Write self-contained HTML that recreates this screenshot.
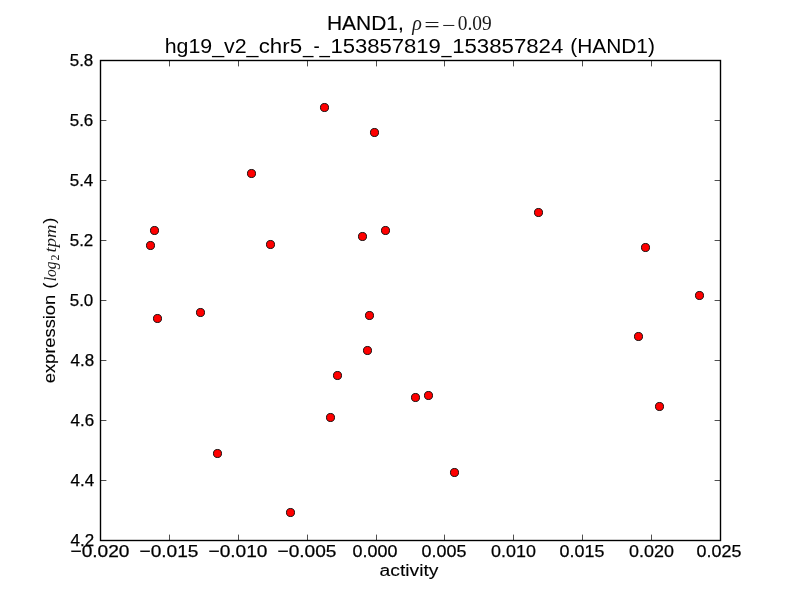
<!DOCTYPE html>
<html lang="en">
<head>
<meta charset="utf-8">
<title>HAND1 activity vs expression</title>
<style>
html,body{margin:0;padding:0;background:#fff;width:800px;height:600px;overflow:hidden}
svg{display:block;position:absolute;left:0;top:0;will-change:transform}
text{font-family:"Liberation Sans",sans-serif;fill:#000;stroke:none}
.tl text{stroke:#000;stroke-width:0.25}
.al{stroke:#000;stroke-width:0.1}
.t2{stroke:#000;stroke-width:0}
.tt{stroke:#000;stroke-width:0.15}
.m{font-family:"Liberation Serif",serif;font-style:italic;stroke:none;fill-opacity:0.9}
.r{font-family:"Liberation Serif",serif;font-style:normal;stroke:none;fill-opacity:0.9}
.tk{stroke:#000;stroke-width:0.694;fill:none}
.pt{fill:#f00;stroke:#000;stroke-width:0.9}
</style>
</head>
<body>
<svg width="800" height="600" viewBox="0 0 800 600">
<rect x="0" y="0" width="800" height="600" fill="#fff"/>
<g class="tk">
<path d="M169.5 540.5V534.6M169.5 60.5V66.4"/>
<path d="M238.5 540.5V534.6M238.5 60.5V66.4"/>
<path d="M307.5 540.5V534.6M307.5 60.5V66.4"/>
<path d="M376.5 540.5V534.6M376.5 60.5V66.4"/>
<path d="M444.5 540.5V534.6M444.5 60.5V66.4"/>
<path d="M513.5 540.5V534.6M513.5 60.5V66.4"/>
<path d="M582.5 540.5V534.6M582.5 60.5V66.4"/>
<path d="M651.5 540.5V534.6M651.5 60.5V66.4"/>
<path d="M100.5 120.5H106.4M720.5 120.5H714.6"/>
<path d="M100.5 180.5H106.4M720.5 180.5H714.6"/>
<path d="M100.5 240.5H106.4M720.5 240.5H714.6"/>
<path d="M100.5 300.5H106.4M720.5 300.5H714.6"/>
<path d="M100.5 360.5H106.4M720.5 360.5H714.6"/>
<path d="M100.5 420.5H106.4M720.5 420.5H714.6"/>
<path d="M100.5 480.5H106.4M720.5 480.5H714.6"/>
</g>
<g class="pt">
<circle cx="324.5" cy="107.5" r="4.03"/>
<circle cx="374.5" cy="132.5" r="4.03"/>
<circle cx="251.5" cy="173.5" r="4.03"/>
<circle cx="538.5" cy="212.5" r="4.03"/>
<circle cx="154.5" cy="230.5" r="4.03"/>
<circle cx="385.5" cy="230.5" r="4.03"/>
<circle cx="362.5" cy="236.5" r="4.03"/>
<circle cx="270.5" cy="244.5" r="4.03"/>
<circle cx="150.5" cy="245.5" r="4.03"/>
<circle cx="645.5" cy="247.5" r="4.03"/>
<circle cx="699.5" cy="295.5" r="4.03"/>
<circle cx="200.5" cy="312.5" r="4.03"/>
<circle cx="369.5" cy="315.5" r="4.03"/>
<circle cx="157.5" cy="318.5" r="4.03"/>
<circle cx="638.5" cy="336.5" r="4.03"/>
<circle cx="367.5" cy="350.5" r="4.03"/>
<circle cx="337.5" cy="375.5" r="4.03"/>
<circle cx="428.5" cy="395.5" r="4.03"/>
<circle cx="415.5" cy="397.5" r="4.03"/>
<circle cx="659.5" cy="406.5" r="4.03"/>
<circle cx="330.5" cy="417.5" r="4.03"/>
<circle cx="217.5" cy="453.5" r="4.03"/>
<circle cx="454.5" cy="472.5" r="4.03"/>
<circle cx="290.5" cy="512.5" r="4.03"/>
</g>
<rect x="100.5" y="60.5" width="620" height="480" fill="none" stroke="#000" stroke-width="1.389"/>
<g class="tl" font-size="17" text-anchor="middle">
<text x="100.00" y="557" textLength="59" lengthAdjust="spacingAndGlyphs">−0.020</text>
<text x="169.00" y="557" textLength="59" lengthAdjust="spacingAndGlyphs">−0.015</text>
<text x="238.00" y="557" textLength="59" lengthAdjust="spacingAndGlyphs">−0.010</text>
<text x="307.00" y="557" textLength="59" lengthAdjust="spacingAndGlyphs">−0.005</text>
<text x="375.00" y="557" textLength="44.8" lengthAdjust="spacingAndGlyphs">0.000</text>
<text x="444.00" y="557" textLength="44.8" lengthAdjust="spacingAndGlyphs">0.005</text>
<text x="513.50" y="557" textLength="44.8" lengthAdjust="spacingAndGlyphs">0.010</text>
<text x="582.00" y="557" textLength="44.8" lengthAdjust="spacingAndGlyphs">0.015</text>
<text x="651.50" y="557" textLength="44.8" lengthAdjust="spacingAndGlyphs">0.020</text>
<text x="719.00" y="557" textLength="44.8" lengthAdjust="spacingAndGlyphs">0.025</text>
</g>
<g class="tl" font-size="17" text-anchor="end">
<text x="93.30" y="66.0" textLength="23.6" lengthAdjust="spacingAndGlyphs">5.8</text>
<text x="93.30" y="126.0" textLength="23.6" lengthAdjust="spacingAndGlyphs">5.6</text>
<text x="93.30" y="186.0" textLength="23.6" lengthAdjust="spacingAndGlyphs">5.4</text>
<text x="93.30" y="246.0" textLength="23.6" lengthAdjust="spacingAndGlyphs">5.2</text>
<text x="93.30" y="306.0" textLength="23.6" lengthAdjust="spacingAndGlyphs">5.0</text>
<text x="94.10" y="366.0" textLength="23.6" lengthAdjust="spacingAndGlyphs">4.8</text>
<text x="94.10" y="426.0" textLength="23.6" lengthAdjust="spacingAndGlyphs">4.6</text>
<text x="94.10" y="486.0" textLength="23.6" lengthAdjust="spacingAndGlyphs">4.4</text>
<text x="94.10" y="546.0" textLength="23.6" lengthAdjust="spacingAndGlyphs">4.2</text>
</g>
<text id="xl" class="al" x="409" y="576" font-size="17.3" text-anchor="middle" textLength="59" lengthAdjust="spacingAndGlyphs">activity</text>
<g transform="translate(55 382.5) rotate(-90)">
<text font-size="17.3"><tspan id="yl_e" class="al" x="-0.8" y="0" textLength="88.5" lengthAdjust="spacingAndGlyphs">expression</tspan> <tspan id="yl_o" class="al" x="94" y="0">(</tspan><tspan id="yl_log" class="m" x="101.2" y="0.5" font-size="17" textLength="20" lengthAdjust="spacingAndGlyphs">log</tspan><tspan id="yl_2" class="r" x="122" y="3.5" font-size="12">2</tspan> <tspan id="yl_tpm" class="m" x="130" y="0.5" font-size="17" textLength="28" lengthAdjust="spacingAndGlyphs">tpm</tspan><tspan id="yl_c" class="al" x="159" y="0">)</tspan></text>
</g>
<text font-size="20.5"><tspan id="t1a" class="tt" x="326.9" y="30" textLength="76.9" lengthAdjust="spacingAndGlyphs">HAND1,</tspan> <tspan id="t1rho" class="m" x="412.3" y="30" font-size="20">ρ</tspan><tspan id="t1eq" class="r" x="424.3" y="32" font-size="20" textLength="15.5" lengthAdjust="spacingAndGlyphs">=</tspan><tspan id="t1mn" class="r" x="442" y="32" font-size="20" textLength="13.5" lengthAdjust="spacingAndGlyphs">−</tspan><tspan id="t1n" class="r" x="457.7" y="30" font-size="20" textLength="34" lengthAdjust="spacingAndGlyphs">0.09</tspan></text>
<text class="t2" font-size="20.5"><tspan id="t2a" x="164.65" y="53" textLength="93.85" lengthAdjust="spacingAndGlyphs">hg19_v2_</tspan><tspan id="t2a2" x="258.7" y="53" textLength="43.4" lengthAdjust="spacingAndGlyphs">chr5</tspan><tspan id="t2a3" x="303" y="53" textLength="27" lengthAdjust="spacingAndGlyphs">_-_</tspan><tspan id="t2b" x="330.5" y="53" textLength="110.4" lengthAdjust="spacingAndGlyphs">153857819</tspan><tspan id="t2c" x="441.5" y="53" textLength="10" lengthAdjust="spacingAndGlyphs">_</tspan><tspan id="t2d" x="452.2" y="53" textLength="111.1" lengthAdjust="spacingAndGlyphs">153857824</tspan> <tspan id="t2e" x="570.25" y="53" textLength="84.7" lengthAdjust="spacingAndGlyphs">(HAND1)</tspan></text>
</svg>
</body>
</html>
